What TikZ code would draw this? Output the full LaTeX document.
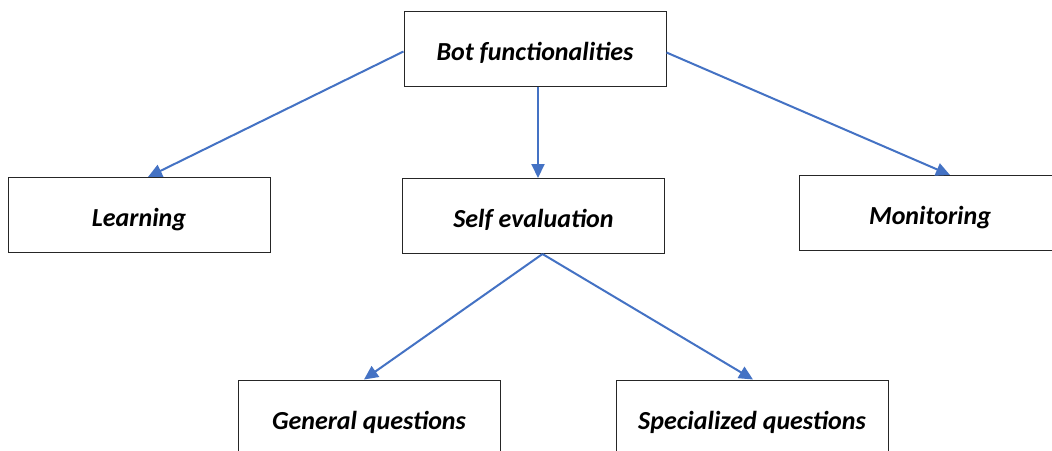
\documentclass[tikz,border=0pt]{standalone}
\usepackage{fontspec}
\setmainfont{Carlito}
\usetikzlibrary{arrows.meta}
\definecolor{arrowblue}{HTML}{4472C4}
\tikzset{
  box/.style={draw=black!85, line width=1pt, fill=white, minimum width=262pt, minimum height=75pt, inner sep=0pt, text height=28pt, text depth=5pt, font=\fontsize{26}{30}\selectfont\bfseries\itshape},
  link/.style={draw=arrowblue, line width=2pt, -{Triangle[length=14pt,width=13pt]}}
}
\begin{document}
\begin{tikzpicture}[x=1pt,y=-1pt]
\clip (0,0) rectangle (1052,450);
\fill[white] (0,0) rectangle (1052,450);
\node[box] (bot) at (535,48.5) {Bot functionalities};
\node[box] (learn) at (139,215) {Learning};
\node[box] (self) at (533.5,216) {Self evaluation};
\node[box] (mon) at (930,213) {Monitoring};
\node[box] (gen) at (369,417.5) {General questions};
\node[box, minimum width=272pt] (spec) at (752,417.5) {Specialized questions};
\draw[link] ([yshift=-3pt]bot.west) -- ([xshift=9pt]learn.north);
\draw[link] ([xshift=3pt]bot.south) -- ([xshift=3pt]bot.south |- self.north);
\draw[link] ([yshift=-4pt]bot.east) -- ([xshift=20pt]mon.north);
\draw[link] ([xshift=9pt]self.south) -- ([xshift=-5pt]gen.north);
\draw[link] ([xshift=9pt]self.south) -- ([xshift=1pt]spec.north);
\end{tikzpicture}
\end{document}
